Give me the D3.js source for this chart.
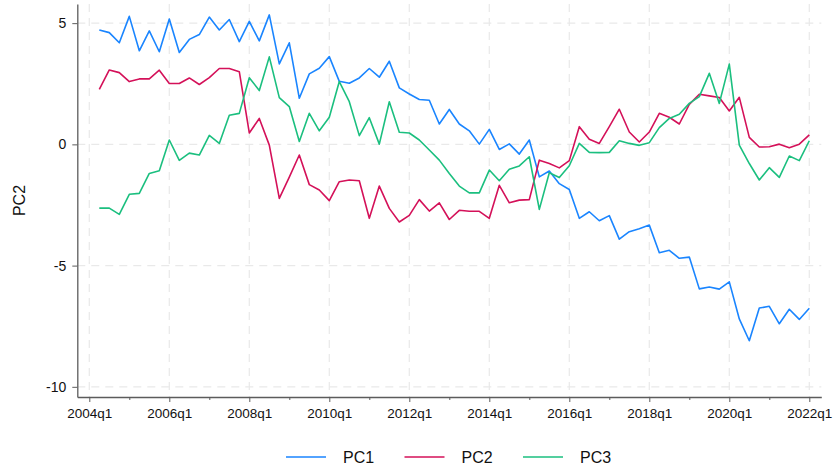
<!DOCTYPE html>
<html>
<head>
<meta charset="utf-8">
<script src="https://cdn.jsdelivr.net/npm/d3@7"></script>
<style>
  body { margin: 0; background: #fff; }
  svg { font-family: "Liberation Sans", Arial, sans-serif; }
</style>
</head>
<body>
<svg></svg>
<script>
// quarterly series, 2004q2 .. 2022q1
let startYear = 2004, startQuarter = 2;
let pc1 = [4.72, 4.61, 4.19, 5.28, 3.86, 4.68, 3.82, 5.17, 3.79, 4.33, 4.53, 5.25, 4.72, 5.15, 4.24, 5.07,
    4.27, 5.34, 3.32, 4.19, 1.90, 2.91, 3.14, 3.62, 2.60, 2.52, 2.74, 3.13, 2.77, 3.43, 2.33, 2.08,
    1.85, 1.82, 0.84, 1.44, 0.84, 0.56, 0.01, 0.62, -0.21, 0.02, -0.40, 0.18, -1.34, -1.10, -1.62, -1.86,
    -3.05, -2.78, -3.15, -2.94, -3.91, -3.60, -3.48, -3.33, -4.47, -4.37, -4.70, -4.65, -5.96, -5.88, -5.97, -5.67,
    -7.20, -8.10, -6.75, -6.68, -7.40, -6.80, -7.22, -6.76];
let pc2 = [2.27, 3.07, 2.96, 2.59, 2.70, 2.70, 3.06, 2.51, 2.51, 2.74, 2.47, 2.75, 3.13, 3.13, 3.00, 0.47,
    1.07, -0.03, -2.23, -1.35, -0.44, -1.66, -1.88, -2.32, -1.54, -1.47, -1.50, -3.05, -1.72, -2.64, -3.20, -2.93,
    -2.28, -2.75, -2.41, -3.10, -2.72, -2.76, -2.76, -3.05, -1.69, -2.41, -2.30, -2.28, -0.65, -0.79, -0.97, -0.67,
    0.73, 0.21, 0.04, 0.73, 1.45, 0.51, 0.10, 0.51, 1.28, 1.12, 0.84, 1.65, 2.07, 2.00, 1.93, 1.38,
    1.94, 0.29, -0.11, -0.10, 0.01, -0.14, 0.01, 0.39];
let pc3 = [-2.63, -2.63, -2.89, -2.06, -2.02, -1.20, -1.09, 0.18, -0.66, -0.36, -0.44, 0.37, 0.04, 1.20, 1.28, 2.75,
    2.22, 3.61, 1.93, 1.56, 0.12, 1.28, 0.56, 1.12, 2.59, 1.76, 0.36, 1.10, 0.01, 1.76, 0.50, 0.47,
    0.18, -0.23, -0.65, -1.20, -1.72, -2.00, -2.00, -1.06, -1.50, -1.03, -0.89, -0.51, -2.68, -1.17, -1.37, -0.88,
    0.04, -0.33, -0.34, -0.33, 0.15, 0.04, -0.04, 0.07, 0.69, 1.07, 1.24, 1.69, 1.97, 2.93, 1.69, 3.31,
    -0.03, -0.79, -1.47, -0.96, -1.36, -0.48, -0.67, 0.15];
let seriesNames = ['PC1', 'PC2', 'PC3'];
let seriesColors = ['#1a85ff', '#d41159', '#1bbf7f'];
let yTicks = [5, 0, -5, -10];
let xTickLabels = ['2004q1', '2006q1', '2008q1', '2010q1', '2012q1', '2014q1', '2016q1', '2018q1', '2020q1', '2022q1'];

// quarter index counted from 2004q1
function qIndex(label) {
    let y = +label.slice(0, 4), q = +label.slice(5);
    return (y - 2004) * 4 + (q - 1);
}
let firstIdx = (startYear - 2004) * 4 + (startQuarter - 1);
let allSeries = [pc1, pc2, pc3].map((vals, k) => ({
    name: seriesNames[k],
    color: seriesColors[k],
    values: vals.map((v, i) => ({ t: firstIdx + i, v: v }))
}));

let width = 834, height = 472;
let plotLeft = 77.3, plotRight = 821.3, plotTop = 4, plotBottom = 397;
let svg = d3.select('svg').attr('width', width).attr('height', height);

let xScale = d3.scaleLinear().domain([-1.2, 73.2]).range([plotLeft, plotRight]);
let yScale = d3.scaleLinear().domain([-10.42, 5.79]).range([plotBottom, plotTop]);

let majorX = xTickLabels.map(qIndex);
let minorX = majorX.slice(0, -1).map(d => d + 4);

// grid
let grid = svg.append('g').attr('stroke', '#e9e9e9').attr('stroke-width', 1.2).attr('stroke-dasharray', '8,6');
grid.selectAll('.gx').data(majorX).enter().append('line')
    .attr('x1', d => xScale(d)).attr('x2', d => xScale(d))
    .attr('y1', plotTop).attr('y2', plotBottom);
grid.selectAll('.gy').data(yTicks).enter().append('line')
    .attr('x1', plotLeft).attr('x2', plotRight)
    .attr('y1', d => yScale(d)).attr('y2', d => yScale(d));

// lines
let line = d3.line().x(d => xScale(d.t)).y(d => yScale(d.v));
svg.selectAll('.series').data(allSeries).enter().append('path')
    .attr('fill', 'none')
    .attr('stroke', d => d.color)
    .attr('stroke-width', 1.6)
    .attr('stroke-linejoin', 'round')
    .attr('d', d => line(d.values));

// axes
let axisColor = '#5c5c5c';
let yAxis = svg.append('g').attr('transform', `translate(${plotLeft},0)`)
    .call(d3.axisLeft(yScale).tickValues(yTicks).tickFormat(d => String(d))
        .tickSize(5).tickPadding(6).tickSizeOuter(0));
let xAxis = svg.append('g').attr('transform', `translate(0,${plotBottom})`)
    .call(d3.axisBottom(xScale).tickValues(majorX).tickFormat((d, i) => xTickLabels[i])
        .tickSize(5).tickPadding(6).tickSizeOuter(0));
svg.append('g').attr('transform', `translate(0,${plotBottom})`)
    .call(d3.axisBottom(xScale).tickValues(minorX).tickFormat('').tickSize(3).tickSizeOuter(0))
    .select('.domain').remove();
svg.selectAll('.domain').attr('stroke', axisColor).attr('stroke-width', 1.3);
svg.selectAll('.tick line').attr('stroke', axisColor);
yAxis.selectAll('text').style('font-size', '14px').attr('fill', '#111');
xAxis.selectAll('text').style('font-size', '13.5px').attr('fill', '#111');

// axis title
svg.append('text')
    .attr('transform', `translate(25,${(plotTop + plotBottom) / 2}) rotate(-90)`)
    .attr('text-anchor', 'middle')
    .style('font-size', '16px')
    .attr('fill', '#111')
    .text('PC2');

// legend
let legend = svg.selectAll('.legend').data(allSeries).enter().append('g')
    .attr('transform', (d, i) => `translate(${286 + i * 118.5},457)`);
legend.append('line')
    .attr('x1', 0).attr('x2', 40)
    .attr('stroke', d => d.color).attr('stroke-width', 1.6);
legend.append('text')
    .attr('x', 57).attr('dy', '0.36em')
    .style('font-size', '16px')
    .attr('fill', '#111')
    .text(d => d.name);
</script>
</body>
</html>
